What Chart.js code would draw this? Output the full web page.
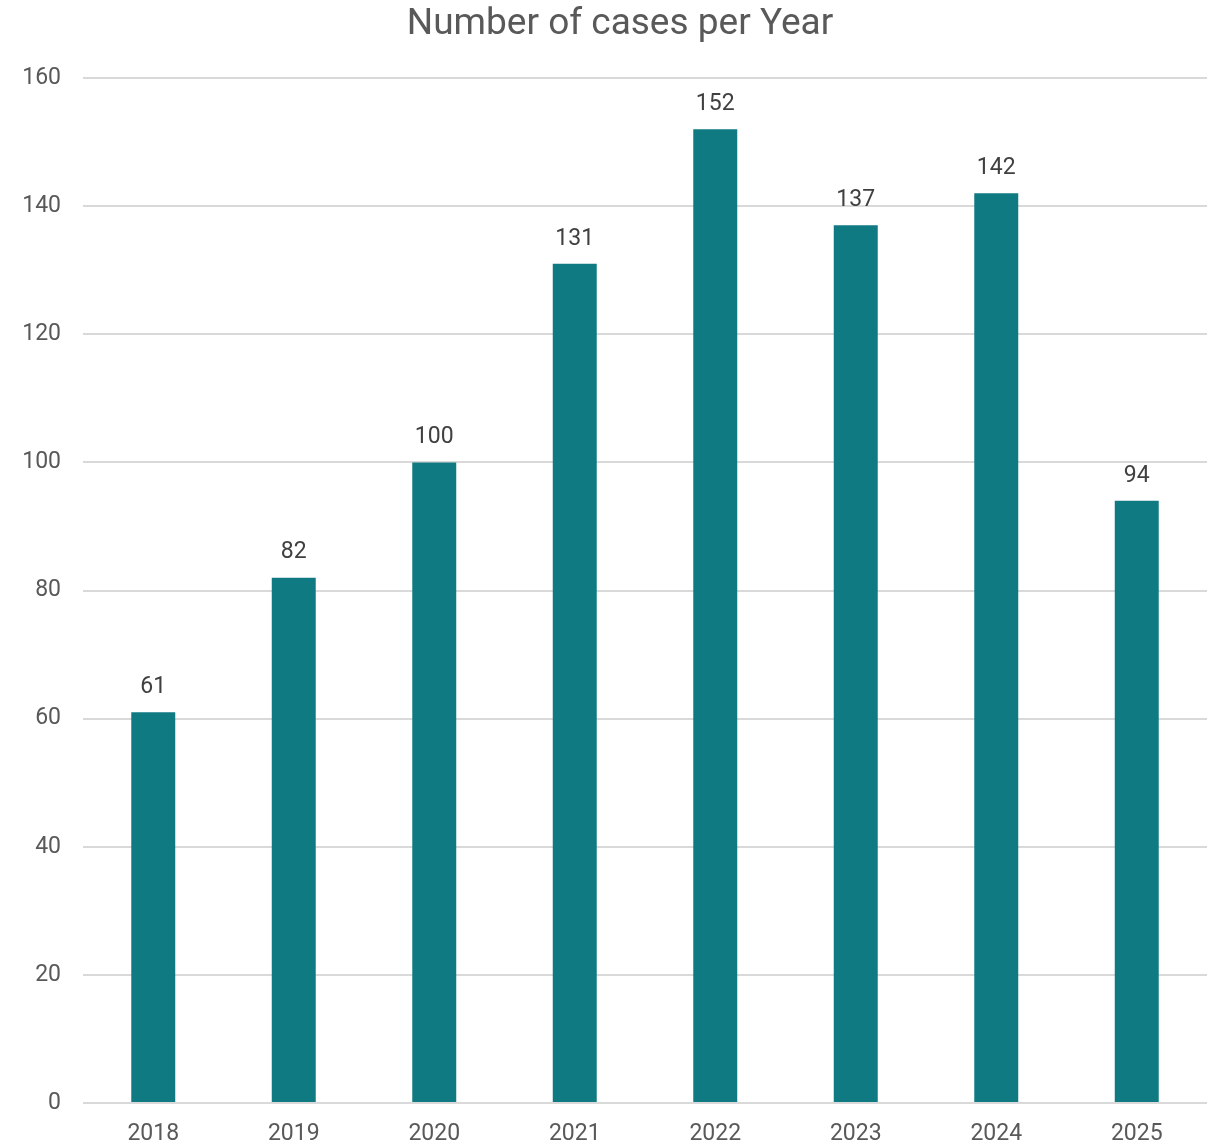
<!DOCTYPE html>
<html>
<head>
<meta charset="utf-8">
<script src="https://cdn.jsdelivr.net/npm/chart.js@4"></script>
<style>
  html, body { margin: 0; padding: 0; background: #fff; }
  #wrap { width: 1215px; height: 1145px; }
</style>
</head>
<body>
<div id="wrap"><canvas id="casesChart" width="1215" height="1145"></canvas></div>
<script>
// Values
const years = ['2018', '2019', '2020', '2021', '2022', '2023', '2024', '2025'];
const cases = [61, 82, 100, 131, 152, 137, 142, 94];
const yTicks = [0, 20, 40, 60, 80, 100, 120, 140, 160];
const chartTitle = 'Number of cases per Year';

// draws the value above each bar, plus the title
const valueLabels = {
    id: 'valueLabels',
    afterDatasetsDraw(chart) {
        const ctx = chart.ctx;
        const meta = chart.getDatasetMeta(0);
        ctx.save();
        ctx.font = '23px Roboto';
        ctx.fillStyle = '#404040';
        ctx.textAlign = 'center';
        ctx.textBaseline = 'middle';
        meta.data.forEach((bar, i) => {
            ctx.fillText(String(cases[i]), bar.x, bar.y - 25);
        });
        // title, centred a bit right like the original
        ctx.font = '37px Roboto';
        ctx.fillStyle = '#595959';
        ctx.fillText(chartTitle, 620, 25);
        ctx.restore();
    }
};

const ctx = document.getElementById('casesChart').getContext('2d');
const casesChart = new Chart(ctx, {
    type: 'bar',
    data: {
        labels: years,
        datasets: [{
            label: 'Cases',
            data: cases,
            backgroundColor: '#107A83',
            categoryPercentage: 1,
            barPercentage: 0.313
        }]
    },
    options: {
        responsive: false,
        animation: false,
        layout: { padding: { left: 0, right: 8, top: 78, bottom: 0 } },
        plugins: {
            legend: { display: false },
            tooltip: { enabled: false },
            title: { display: false }
        },
        scales: {
            x: {
                grid: { display: false, drawTicks: false },
                border: { display: false },
                ticks: {
                    color: '#595959',
                    font: { family: 'Roboto', size: 23 },
                    padding: 17
                },
                afterFit(scale) { scale.height = 42; }
            },
            y: {
                min: 0,
                max: 160,
                afterBuildTicks(scale) { scale.ticks = yTicks.map(v => ({ value: v })); },
                grid: { color: '#d9d9d9', lineWidth: 2, drawTicks: false },
                border: { display: false },
                ticks: {
                    color: '#595959',
                    font: { family: 'Roboto', size: 23 },
                    padding: 22
                },
                afterFit(scale) { scale.width = 83; }
            }
        }
    },
    plugins: [valueLabels]
});
</script>
</body>
</html>
